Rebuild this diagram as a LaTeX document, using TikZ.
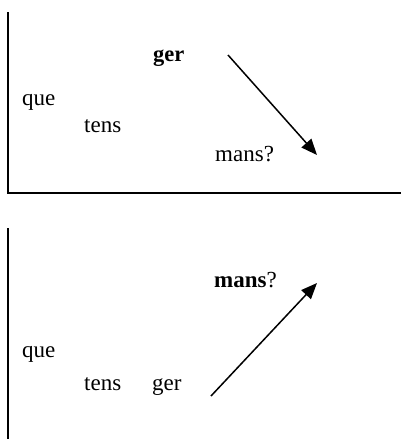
\documentclass[tikz,border=0pt]{standalone}
\usepackage{fontspec}
\setmainfont{Liberation Serif}
\usetikzlibrary{arrows.meta}
\begin{document}
\begin{tikzpicture}[x=1pt,y=-1pt,
  word/.style={anchor=base west,inner sep=0pt,font=\fontsize{23}{27}\selectfont},
  frame/.style={line width=2pt},
  move/.style={line width=1.5pt,-{Triangle[length=16pt,width=13pt]}}]
\useasboundingbox (0,0) rectangle (401,439);
% top panel
\coordinate (t1) at (8,12);
\coordinate (t2) at (8,193);
\coordinate (t3) at (401,193);
\draw[frame] (t1) -- (t2) -- (t3);
\node[word,font=\fontsize{22.5}{26}\selectfont\bfseries] (gerA) at (153,61) {ger};
\node[word] (queA) at (22,105) {que};
\node[word] (tensA) at (84,132) {tens};
\node[word] (mansA) at (215,161) {mans?};
\coordinate (a1) at (228,55);
\coordinate (a2) at (317,155);
\draw[move] (a1) -- (a2);
% bottom panel
\coordinate (b1) at (8,228);
\coordinate (b2) at (8,439);
\draw[frame] (b1) -- (b2);
\node[word] (mansB) at (214,287) {\textbf{mans}?};
\node[word] (queB) at (22,357) {que};
\node[word] (tensB) at (84,390) {tens};
\node[word] (gerB) at (152,390) {ger};
\coordinate (c1) at (211,396);
\coordinate (c2) at (317,283);
\draw[move] (c1) -- (c2);
\end{tikzpicture}
\end{document}
